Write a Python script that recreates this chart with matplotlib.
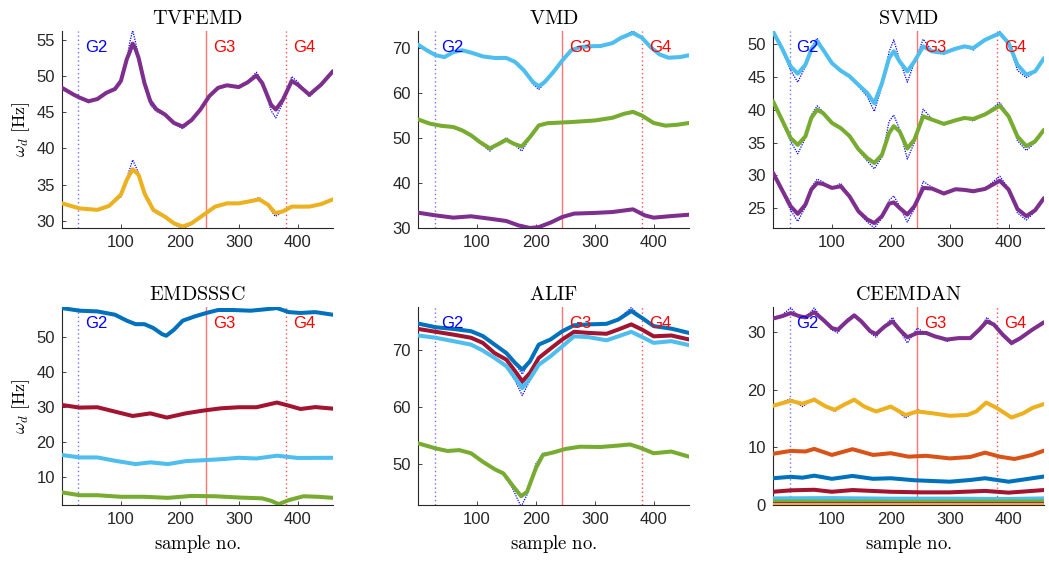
import matplotlib
matplotlib.use("Agg")
import matplotlib.pyplot as plt

plt.rcParams["font.family"] = ["Liberation Sans", "DejaVu Sans"]
plt.rcParams["mathtext.fontset"] = "cm"

# MATLAB default line colours
C_BLUE = "#0072BD"
C_ORANGE = "#D95319"
C_YELLOW = "#EDB120"
C_PURPLE = "#7E2F8E"
C_GREEN = "#77AC30"
C_LBLUE = "#4DBEEE"
C_DRED = "#A2142F"

# group boundaries (sample no.)
g_pos = [28, 244, 380]
g_names = ["G2", "G3", "G4"]

# ---------------- TVFEMD ----------------
tv_p_x = [0, 20, 30, 45, 60, 75, 90, 100, 110, 115, 120, 125, 130, 140, 150, 160, 175, 190, 205, 220,
          235, 250, 265, 280, 300, 315, 330, 340, 355, 363, 375, 390, 400, 420, 440, 460]
tv_p = [48.35, 47.4, 47.0, 46.5, 46.8, 47.65, 48.2, 49.3, 52.3, 53.3, 54.45, 53.65, 52.5, 49.0, 46.5, 45.4,
        44.65, 43.5, 43.0, 43.9, 45.35, 47.2, 48.35, 48.7, 48.45, 49.1, 50.05, 49.0, 46.0, 45.35, 46.7,
        49.3, 48.8, 47.4, 48.8, 50.65]
tv_p_raw = [48.35, 47.4, 47.0, 46.3, 46.8, 47.8, 48.0, 49.0, 52.3, 54.6, 56.3, 54.6, 52.6, 48.8, 46.0, 45.1,
            44.6, 43.4, 42.7, 43.8, 45.35, 47.2, 48.35, 48.7, 48.45, 49.2, 50.5, 49.2, 45.2, 44.2, 46.3,
            49.9, 49.2, 47.1, 48.8, 50.65]
tv_y_x = [0, 30, 60, 80, 100, 110, 120, 130, 140, 155, 175, 190, 205, 220, 240, 260, 280, 300, 320, 335,
          350, 362, 375, 390, 420, 440, 460]
tv_y = [32.4, 31.7, 31.5, 32.05, 33.6, 35.65, 37.1, 36.35, 33.8, 31.5, 30.55, 29.65, 29.2, 29.65, 30.8,
        31.95, 32.4, 32.4, 32.7, 32.95, 32.2, 31.05, 31.3, 31.95, 31.95, 32.3, 32.95]
tv_y_raw = [32.4, 31.7, 31.5, 32.05, 33.3, 35.9, 38.4, 36.6, 33.4, 31.3, 30.4, 29.5, 28.9, 29.5, 30.8,
            31.95, 32.4, 32.4, 32.8, 33.2, 32.0, 30.6, 31.2, 32.1, 31.95, 32.3, 32.95]

# ---------------- VMD ----------------
vmd_lb_x = [0, 15, 30, 45, 60, 75, 90, 110, 130, 150, 165, 180, 195, 205, 215, 230, 245, 260, 275, 290,
            310, 330, 345, 365, 380, 395, 410, 425, 445, 460]
vmd_lb = [70.75, 69.5, 68.4, 68.0, 69.1, 69.5, 69.0, 68.15, 67.8, 67.8, 66.9, 65.0, 62.45, 61.5, 62.45,
          64.7, 67.25, 69.5, 70.2, 70.4, 70.45, 71.1, 72.3, 73.35, 72.3, 70.2, 68.6, 67.85, 68.0, 68.4]
vmd_lb_raw = [70.75, 69.5, 68.4, 68.0, 69.1, 69.5, 69.0, 68.15, 67.8, 67.8, 66.9, 65.0, 62.0, 60.8, 62.2,
              64.7, 67.25, 69.5, 70.2, 70.4, 70.45, 71.1, 72.4, 73.8, 72.3, 70.2, 68.6, 67.85, 68.0, 68.4]
vmd_g_x = [0, 20, 40, 60, 75, 90, 105, 122, 137, 150, 163, 176, 190, 205, 220, 260, 300, 330, 350, 365,
           380, 400, 420, 440, 460]
vmd_g = [54.15, 53.2, 52.7, 52.45, 51.7, 50.6, 49.1, 47.7, 48.7, 49.6, 48.7, 48.1, 50.2, 52.8, 53.3,
         53.55, 53.9, 54.5, 55.4, 55.8, 55.0, 53.35, 52.75, 52.95, 53.35]
vmd_g_raw = [54.15, 53.2, 52.7, 52.45, 51.7, 50.6, 48.9, 47.1, 48.9, 50.1, 48.6, 47.1, 50.0, 53.1, 53.3,
             53.55, 53.9, 54.5, 55.4, 56.1, 55.0, 53.35, 52.75, 52.95, 53.35]
vmd_p_x = [0, 30, 60, 90, 120, 150, 170, 190, 205, 225, 245, 265, 300, 330, 365, 385, 400, 430, 460]
vmd_p = [33.4, 32.8, 32.3, 32.6, 32.1, 31.55, 30.6, 30.0, 30.2, 31.2, 32.45, 33.2, 33.35, 33.55, 34.15,
         32.8, 32.3, 32.65, 32.95]

# ---------------- SVMD ----------------
svmd_x = [0, 15, 30, 42, 55, 65, 75, 85, 100, 115, 130, 145, 160, 172, 185, 197, 205, 215, 228, 240, 255,
          270, 290, 310, 325, 340, 360, 385, 400, 415, 430, 445, 460]
svmd_lb = [51.9, 49.4, 46.6, 45.5, 46.85, 49.15, 50.4, 49.15, 47.1, 45.95, 45.1, 43.8, 42.55, 41.0, 44.05,
           47.85, 48.9, 47.35, 45.85, 47.35, 49.65, 48.9, 48.65, 49.3, 49.65, 49.4, 50.65, 51.65, 50.15,
           46.85, 45.35, 45.85, 47.85]
svmd_lb_raw = [51.9, 49.2, 46.0, 44.2, 46.6, 49.5, 50.9, 49.3, 47.0, 45.95, 45.1, 43.6, 42.0, 39.75, 43.6,
               48.8, 50.65, 47.6, 44.2, 47.2, 50.75, 49.0, 48.5, 49.4, 49.8, 49.1, 50.7, 51.9, 50.3, 46.0,
               44.9, 45.7, 47.85]
svmd_g = [41.3, 38.5, 35.7, 34.65, 35.95, 38.75, 40.0, 39.5, 38.0, 37.2, 36.0, 34.0, 32.65, 31.9, 33.15,
          36.45, 37.5, 36.7, 34.1, 35.45, 39.0, 38.5, 37.85, 38.4, 38.75, 38.6, 39.3, 40.6, 39.0, 35.95,
          34.45, 35.2, 36.95]
svmd_g_raw = [41.3, 38.3, 35.2, 33.3, 35.7, 39.2, 40.6, 39.7, 37.9, 37.3, 36.0, 33.8, 32.2, 31.0, 32.8,
              38.2, 39.2, 37.0, 32.5, 35.0, 40.1, 38.6, 37.7, 38.5, 38.8, 38.3, 39.4, 41.1, 39.2, 35.3,
              33.8, 35.0, 36.95]
svmd_p = [30.4, 27.85, 25.3, 24.15, 25.55, 27.85, 28.85, 28.7, 28.1, 28.35, 26.8, 24.55, 23.3, 22.75,
          23.8, 25.7, 25.9, 25.05, 24.05, 25.3, 28.1, 28.0, 27.25, 27.9, 27.8, 27.6, 27.95, 29.2, 27.85,
          24.9, 23.8, 24.7, 26.55]
svmd_p_raw = [30.4, 27.6, 24.7, 23.0, 25.2, 28.2, 29.45, 29.0, 28.0, 28.8, 26.8, 24.3, 22.9, 22.0, 23.5,
              26.2, 26.9, 25.3, 22.9, 24.9, 29.1, 28.2, 27.1, 28.0, 27.7, 27.4, 28.0, 29.9, 28.0, 24.3,
              23.2, 24.5, 26.55]

# ---------------- EMDSSSC ----------------
emd_b_x = [0, 30, 60, 90, 110, 125, 140, 155, 170, 177, 190, 205, 225, 245, 265, 290, 320, 345, 365, 385,
           405, 430, 460]
emd_b = [58.3, 57.55, 57.35, 56.4, 54.7, 53.7, 53.7, 52.6, 50.85, 50.4, 52.1, 54.7, 55.9, 56.9, 57.75,
         57.75, 57.55, 57.95, 58.3, 57.15, 56.9, 57.15, 56.4]
emd_r_x = [0, 30, 60, 90, 120, 150, 178, 210, 240, 270, 300, 330, 365, 385, 405, 430, 460]
emd_r = [30.6, 29.85, 29.95, 28.7, 27.45, 28.2, 27.0, 28.2, 29.0, 29.65, 29.95, 29.95, 31.3, 30.4, 29.45,
         30.0, 29.55]
emd_lb_x = [0, 30, 60, 90, 125, 150, 180, 210, 245, 275, 300, 330, 365, 400, 460]
emd_lb = [16.3, 15.6, 15.6, 14.65, 13.7, 14.2, 13.7, 14.55, 14.85, 15.15, 15.5, 15.3, 16.1, 15.45, 15.5]
emd_g_x = [0, 30, 60, 100, 140, 180, 220, 260, 300, 340, 355, 368, 385, 410, 435, 460]
emd_g = [5.6, 4.8, 4.8, 4.35, 4.35, 4.05, 4.6, 4.5, 4.15, 3.9, 3.2, 2.25, 3.4, 4.5, 4.35, 4.05]

# ---------------- ALIF ----------------
alif_x = [0, 30, 60, 90, 110, 130, 150, 165, 177, 190, 205, 225, 245, 265, 290, 320, 340, 362, 380, 400,
          430, 460]
alif_b = [74.7, 74.05, 73.75, 73.35, 72.5, 71.0, 69.5, 67.75, 66.6, 68.05, 71.0, 71.9, 73.35, 74.4, 74.55,
          74.65, 75.4, 76.9, 75.7, 74.25, 73.8, 73.05]
alif_b_raw = [74.7, 74.05, 73.75, 73.35, 72.5, 71.0, 69.5, 67.6, 65.8, 68.0, 71.0, 71.9, 73.35, 74.4, 74.55,
              74.65, 75.5, 77.5, 75.7, 74.25, 73.8, 73.05]
alif_r = [73.75, 73.25, 72.75, 72.2, 71.3, 69.5, 68.35, 66.3, 64.55, 66.0, 68.65, 70.3, 71.9, 73.25, 73.05,
          72.9, 73.65, 74.55, 73.65, 72.45, 72.6, 71.9]
alif_r_raw = [73.75, 73.25, 72.75, 72.2, 71.3, 69.5, 68.3, 66.0, 64.0, 65.8, 68.65, 70.3, 71.9, 73.25,
              73.05, 72.9, 73.65, 74.7, 73.65, 72.45, 72.6, 71.9]
alif_lb = [72.6, 72.2, 71.6, 71.0, 69.95, 68.65, 67.2, 65.1, 63.35, 65.0, 67.45, 68.95, 70.7, 72.45, 72.3,
           71.75, 72.45, 73.25, 72.35, 71.3, 71.6, 70.9]
alif_lb_raw = [72.6, 72.2, 71.6, 71.0, 69.95, 68.65, 67.1, 64.6, 62.05, 64.7, 67.45, 68.95, 70.7, 72.45,
               72.3, 71.75, 72.45, 73.3, 72.35, 71.3, 71.6, 70.9]
alif_g_x = [0, 30, 50, 70, 90, 110, 130, 145, 160, 175, 185, 200, 212, 230, 250, 275, 310, 340, 360, 380,
            400, 430, 460]
alif_g = [53.65, 52.75, 52.3, 52.45, 51.9, 50.4, 49.1, 48.35, 46.3, 44.35, 45.1, 49.25, 51.6, 52.05, 52.65,
          53.05, 53.0, 53.25, 53.45, 52.75, 51.9, 52.2, 51.3]
alif_g_raw = [53.65, 52.75, 52.3, 52.45, 51.9, 50.4, 49.1, 48.2, 45.8, 42.5, 44.6, 50.0, 51.9, 52.05, 52.65,
              53.05, 53.0, 53.25, 53.45, 52.75, 51.9, 52.2, 51.3]

# ---------------- CEEMDAN ----------------
cee_p_x = [0, 15, 30, 45, 55, 70, 85, 100, 110, 125, 138, 150, 165, 175, 190, 203, 215, 228, 245, 260, 275,
           295, 315, 335, 350, 363, 375, 390, 405, 420, 440, 460]
cee_p = [32.4, 32.8, 33.35, 32.8, 32.6, 33.5, 32.2, 30.75, 30.45, 31.9, 32.95, 31.9, 30.2, 29.7, 31.05,
         31.9, 30.45, 29.15, 29.9, 29.9, 29.3, 28.75, 29.0, 29.0, 30.45, 31.9, 31.35, 29.6, 28.15, 29.0,
         30.45, 31.75]
cee_p_raw = [32.4, 33.0, 34.25, 32.6, 32.4, 34.25, 32.1, 30.4, 29.9, 32.2, 33.2, 31.9, 29.9, 29.15, 31.2,
             32.6, 30.3, 28.15, 30.75, 29.7, 29.4, 28.4, 29.1, 28.9, 30.4, 32.6, 31.4, 29.3, 27.85, 28.8,
             30.5, 31.75]
cee_y_x = [0, 30, 50, 70, 90, 105, 120, 138, 155, 175, 200, 225, 245, 270, 300, 330, 345, 362, 380, 405,
           425, 440, 460]
cee_y = [17.25, 18.1, 17.6, 18.3, 17.1, 16.55, 17.4, 18.3, 17.1, 16.25, 17.1, 15.65, 16.25, 15.95, 15.5,
         15.65, 16.25, 17.8, 16.85, 15.2, 15.95, 16.85, 17.55]
cee_y_raw = [17.25, 18.45, 17.1, 18.55, 17.0, 16.25, 17.5, 18.5, 17.0, 16.1, 17.3, 15.1, 16.55, 15.9, 15.4,
             15.7, 16.2, 18.0, 16.8, 15.0, 15.9, 16.9, 17.55]
cee_o_x = [0, 30, 55, 70, 100, 135, 170, 200, 230, 260, 300, 335, 360, 385, 410, 440, 460]
cee_o = [8.9, 9.4, 9.3, 9.75, 8.7, 9.7, 8.7, 9.0, 8.4, 8.55, 8.1, 8.35, 9.1, 8.4, 8.0, 8.7, 9.45]
cee_b_x = [0, 30, 50, 70, 100, 135, 170, 200, 240, 300, 335, 360, 400, 460]
cee_b = [4.65, 4.9, 4.75, 5.1, 4.55, 5.05, 4.55, 4.65, 4.3, 4.05, 4.35, 4.65, 4.05, 4.95]
cee_r_x = [0, 30, 70, 100, 135, 200, 250, 300, 360, 400, 460]
cee_r = [2.3, 2.55, 2.65, 2.3, 2.6, 2.3, 2.2, 2.2, 2.45, 2.15, 2.6]
cee_lb_x = [0, 100, 200, 300, 400, 460]
cee_lb = [1.15, 1.2, 1.1, 1.1, 1.05, 1.15]
cee_g_x = [0, 230, 460]
cee_g = [0.6, 0.55, 0.6]
cee_pp_x = [0, 460]
cee_pp = [0.2, 0.2]
cee_yy_x = [0, 460]
cee_yy = [0.0, 0.0]

# (title, ylim, yticks, series list: (x, smooth, raw, colour))
panels = [
    ("TVFEMD", (29.0, 56.2), [30, 35, 40, 45, 50, 55],
     [(tv_p_x, tv_p, tv_p_raw, C_PURPLE), (tv_y_x, tv_y, tv_y_raw, C_YELLOW)]),
    ("VMD", (30.0, 73.8), [30, 40, 50, 60, 70],
     [(vmd_lb_x, vmd_lb, vmd_lb_raw, C_LBLUE), (vmd_g_x, vmd_g, vmd_g_raw, C_GREEN),
      (vmd_p_x, vmd_p, vmd_p, C_PURPLE)]),
    ("SVMD", (22.0, 52.0), [25, 30, 35, 40, 45, 50],
     [(svmd_x, svmd_lb, svmd_lb_raw, C_LBLUE), (svmd_x, svmd_g, svmd_g_raw, C_GREEN),
      (svmd_x, svmd_p, svmd_p_raw, C_PURPLE)]),
    ("EMDSSSC", (2.0, 58.6), [10, 20, 30, 40, 50],
     [(emd_b_x, emd_b, emd_b, C_BLUE), (emd_r_x, emd_r, emd_r, C_DRED),
      (emd_lb_x, emd_lb, emd_lb, C_LBLUE), (emd_g_x, emd_g, emd_g, C_GREEN)]),
    ("ALIF", (42.8, 77.6), [50, 60, 70],
     [(alif_x, alif_b, alif_b_raw, C_BLUE), (alif_x, alif_r, alif_r_raw, C_DRED),
      (alif_x, alif_lb, alif_lb_raw, C_LBLUE), (alif_g_x, alif_g, alif_g_raw, C_GREEN)]),
    ("CEEMDAN", (0.0, 34.4), [0, 10, 20, 30],
     [(cee_p_x, cee_p, cee_p_raw, C_PURPLE), (cee_y_x, cee_y, cee_y_raw, C_YELLOW),
      (cee_o_x, cee_o, cee_o, C_ORANGE), (cee_b_x, cee_b, cee_b, C_BLUE),
      (cee_r_x, cee_r, cee_r, C_DRED), (cee_lb_x, cee_lb, cee_lb, C_LBLUE),
      (cee_g_x, cee_g, cee_g, C_GREEN), (cee_pp_x, cee_pp, cee_pp, C_PURPLE),
      (cee_yy_x, cee_yy, cee_yy, C_YELLOW)]),
]

fig = plt.figure(figsize=(10.49, 5.61), dpi=100)
lefts = [0.0591, 0.3985, 0.7369]
bottoms = [0.5936, 0.0998]
width = 0.2583
heights = [0.3512, 0.3529]
axis_col = (0.15, 0.15, 0.15)

for i, (title, ylim, yticks, series) in enumerate(panels):
    row, col = divmod(i, 3)
    ax = fig.add_axes([lefts[col], bottoms[row], width, heights[row]])

    # group boundaries
    ax.axvline(g_pos[0], color=(0.45, 0.45, 1.0), ls=(0, (1, 2)), lw=1.0, zorder=1)
    ax.axvline(g_pos[1], color=(1.0, 0.45, 0.45), ls="-", lw=1.0, zorder=1)
    ax.axvline(g_pos[2], color=(1.0, 0.3, 0.3), ls=(0, (1, 2)), lw=1.0, zorder=1)

    for x, smooth, raw, c in series:
        ax.plot(x, raw, color="blue", ls=(0, (1, 1)), lw=0.9, zorder=2)
        ax.plot(x, smooth, color=c, lw=2.9, zorder=3, solid_capstyle="round",
                solid_joinstyle="round")

    tfrac = 0.915
    for gx, gn, gc in zip(g_pos, g_names, ["blue", "red", "red"]):
        ax.text(gx + 12, tfrac, gn, color=gc, fontsize=12, va="center", ha="left",
                transform=ax.get_xaxis_transform(), zorder=4)

    ax.set_xlim(0, 460)
    ax.set_ylim(*ylim)
    ax.set_xticks([100, 200, 300, 400])
    ax.set_yticks(yticks)
    for s in ["top", "right"]:
        ax.spines[s].set_visible(False)
    for s in ["left", "bottom"]:
        ax.spines[s].set_color(axis_col)
        ax.spines[s].set_linewidth(0.8)
    ax.tick_params(direction="in", length=3, width=0.6, colors=axis_col, labelsize=12,
                   labelcolor=axis_col, pad=5)
    ax.set_title(r"$\mathrm{%s}$" % title, fontsize=14.5, pad=5)
    if col == 0:
        ax.set_ylabel(r"$\omega_d\ [\mathrm{Hz}]$", fontsize=13, labelpad=3)
    if row == 1:
        ax.set_xlabel(r"$\mathrm{sample\ no.}$", fontsize=13.5, labelpad=4)

fig.savefig("out.png", dpi=100)
